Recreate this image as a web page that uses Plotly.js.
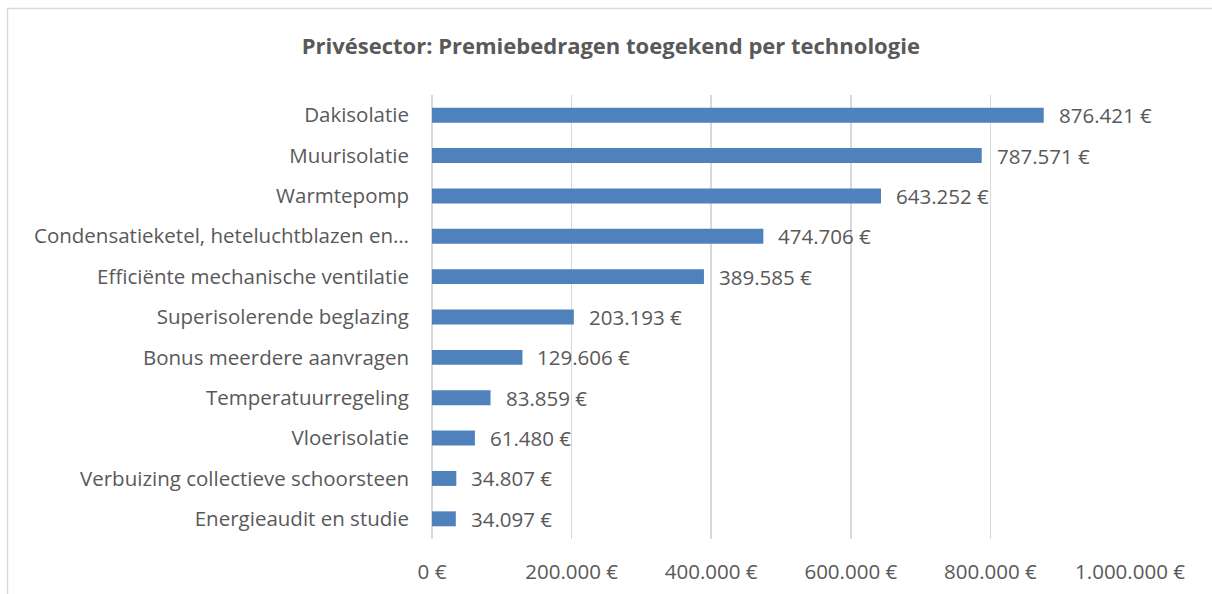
<!DOCTYPE html>
<html><head><meta charset="utf-8">
<script src="https://cdn.plot.ly/plotly-3.0.1.min.js"></script>
<style>html,body{margin:0;padding:0;background:#fff}#chart{width:1212px;height:594px}</style>
</head><body><div id="chart"></div>
<script>
const categories = ["Dakisolatie","Muurisolatie","Warmtepomp","Condensatieketel, heteluchtblazen en…","Efficiënte mechanische ventilatie","Superisolerende beglazing","Bonus meerdere aanvragen","Temperatuurregeling","Vloerisolatie","Verbuizing collectieve schoorsteen","Energieaudit en studie"];
const amounts = [876421,787571,643252,474706,389585,203193,129606,83859,61480,34807,34097];
const valueLabels = ["876.421 €","787.571 €","643.252 €","474.706 €","389.585 €","203.193 €","129.606 €","83.859 €","61.480 €","34.807 €","34.097 €"];
const tickValues = [0,200000,400000,600000,800000,1000000];
const tickLabels = ["0 €","200.000 €","400.000 €","600.000 €","800.000 €","1.000.000 €"];
const titleText = "Privésector: Premiebedragen toegekend per technologie";

const FONT = "Open Sans, Noto Sans, sans-serif";
const GREY = "#595959";
const FS = 20.5;
const L = 432, R = 82, T = 95, B = 55, W = 1212, H = 594;
const pw = W - L - R, ph = H - T - B;
const px = v => (v - L) / pw;
const py = v => (H - B - v) / ph;

const trace = {
  type: "bar", orientation: "h",
  x: amounts, y: categories,
  marker: {color: "#4f81bd"},
  width: 0.37,
  hoverinfo: "none"
};

const annotations = categories.map((c, i) => ({
  x: amounts[i], y: c, xref: "x", yref: "y",
  text: valueLabels[i], showarrow: false,
  xanchor: "left", xshift: 13,
  font: {family: FONT, size: FS, color: GREY}
}));

const layout = {
  width: W, height: H,
  margin: {l: L, r: R, t: T, b: B, pad: 0},
  paper_bgcolor: "#fff", plot_bgcolor: "#fff",
  title: {text: "<b>" + titleText + "</b>", x: 0.504, xanchor: "center", y: 1 - 46/H, yanchor: "middle",
          font: {family: FONT, size: 22, color: GREY}},
  showlegend: false,
  xaxis: {range: [0, 1000000], tickvals: tickValues, ticktext: tickLabels,
          showgrid: true, gridcolor: "#d9d9d9", gridwidth: 1.5, zeroline: true, zerolinecolor: "#d9d9d9", zerolinewidth: 1.5,
          showline: false, ticks: "", ticklabelstandoff: 18,
          tickfont: {family: FONT, size: FS, color: GREY}, fixedrange: true},
  yaxis: {type: "category", autorange: "reversed", showgrid: false, zeroline: false, showline: false,
          ticks: "", ticklabelstandoff: 22,
          tickfont: {family: FONT, size: FS, color: GREY}, fixedrange: true},
  annotations: annotations,
  shapes: [
    {type: "line", xref: "paper", yref: "paper", x0: px(7.5), x1: px(7.5), y0: py(8), y1: py(600), line: {color: "#d9d9d9", width: 1.5}},
    {type: "line", xref: "paper", yref: "paper", x0: px(7), x1: px(1220), y0: py(8.5), y1: py(8.5), line: {color: "#d9d9d9", width: 1.5}}
  ]
};

Plotly.newPlot("chart", [trace], layout, {displayModeBar: false, staticPlot: true});
</script></body></html>
